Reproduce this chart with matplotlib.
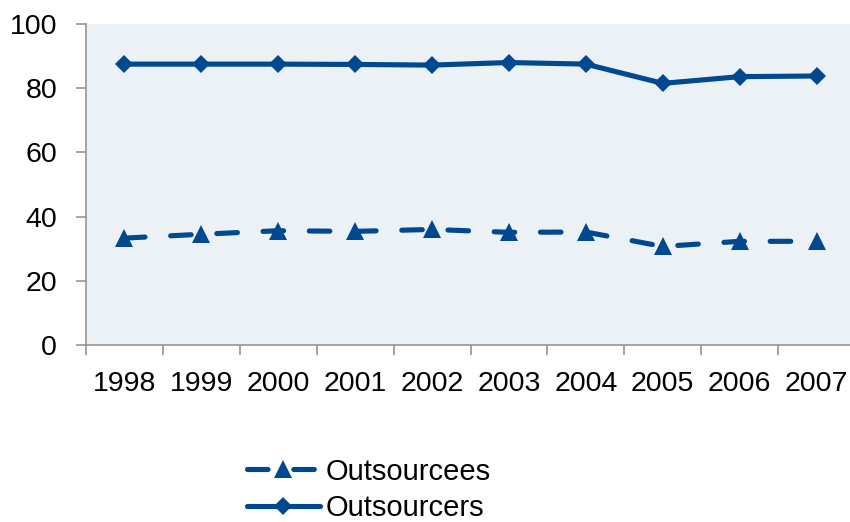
import matplotlib
matplotlib.use("Agg")
import matplotlib.pyplot as plt
from matplotlib.ticker import FixedLocator, NullFormatter
import numpy as np

years = ["1998", "1999", "2000", "2001", "2002", "2003", "2004", "2005", "2006", "2007"]
outsourcees = [33.3, 34.5, 35.6, 35.4, 36.0, 35.1, 35.2, 30.7, 32.3, 32.3]
outsourcers = [87.5, 87.5, 87.5, 87.4, 87.2, 88.0, 87.5, 81.5, 83.6, 83.8]
y_ticks = [0, 20, 40, 60, 80, 100]

plt.rcParams["font.family"] = ["Liberation Sans", "DejaVu Sans"]
plt.rcParams["font.size"] = 20.5

blue = "#004990"
grid_gray = "#8c8c8c"
panel_bg = "#ecf1f6"

W, H = 850, 522
fig = plt.figure(figsize=(W / 100, H / 100), dpi=100)
left, right, top, bottom = 86, 855, 24, 345
ax = fig.add_axes([left / W, (H - bottom) / H, (right - left) / W, (bottom - top) / H])
ax.set_facecolor(panel_bg)

x = np.arange(len(years))
lw = 3.7
ax.plot(x, outsourcees, color=blue, lw=lw, linestyle=(0, (4, 5)),
        dash_capstyle="round", marker="^", ms=13, mew=0, label="Outsourcees",
        clip_on=False)
ax.plot(x, outsourcers, color=blue, lw=lw, solid_capstyle="round",
        marker="D", ms=9.5, mew=0, label="Outsourcers", clip_on=False)

ax.set_xlim(-0.5, len(years) - 0.5)
ax.set_ylim(0, 100)
ax.set_yticks(y_ticks)
ax.set_yticklabels([str(v) for v in y_ticks])

# category boundaries carry the tick marks, labels sit at category centres
ax.xaxis.set_major_locator(FixedLocator(np.arange(-0.5, len(years), 1.0)))
ax.xaxis.set_major_formatter(NullFormatter())
ax.xaxis.set_minor_locator(FixedLocator(x))
ax.set_xticklabels(years, minor=True)
ax.tick_params(axis="x", which="major", length=7, width=1.1, color=grid_gray, direction="out")
ax.tick_params(axis="x", which="minor", length=0, pad=19)
ax.tick_params(axis="y", length=7.2, width=1.1, color=grid_gray, direction="out", pad=13.5)

for side in ("top", "right"):
    ax.spines[side].set_visible(False)
for side in ("left", "bottom"):
    ax.spines[side].set_color(grid_gray)
    ax.spines[side].set_linewidth(1.1)

leg = fig.legend(loc="upper left", bbox_to_anchor=(232 / W, (H - 443) / H),
                 frameon=False, handlelength=2.5, handletextpad=0.2,
                 labelspacing=0.28, borderpad=0, numpoints=1, fontsize=21)

fig.savefig("out.png", dpi=100)
